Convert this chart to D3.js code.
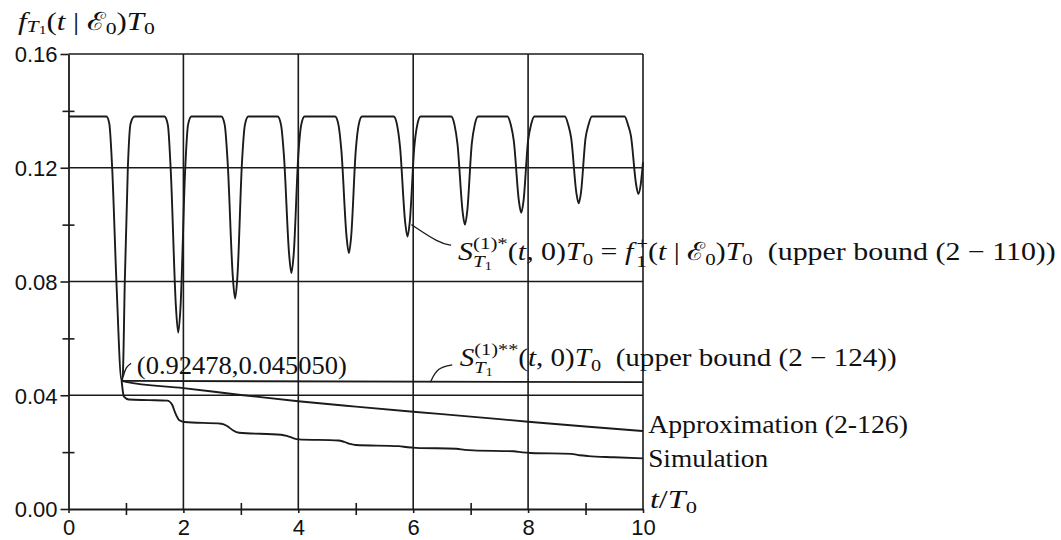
<!DOCTYPE html>
<html><head><meta charset="utf-8">
<script src="https://cdn.jsdelivr.net/npm/d3@7"></script>
<style>
body{margin:0;background:#fff;}
svg{display:block;}
text{white-space:pre;}
</style>
</head><body>
<svg id="chart" width="1061" height="540"></svg>
<script>
// ---- data ----
const xMajorTicks = [0, 2, 4, 6, 8, 10];
const xMinorTicks = [1, 3, 5, 7, 9];
const yMajorTicks = [0, 0.04, 0.08, 0.12, 0.16];
const yMinorTicks = [0.02, 0.06, 0.10, 0.14];
const xTickLabels = ["0", "2", "4", "6", "8", "10"];
const yTickLabels = ["0.00", "0.04", "0.08", "0.12", "0.16"];

// S*_{T1}(t,0)T0 = f1+(t|E0)T0  (upper bound 2-110)
const upperBoundStar = [
  [0,0.138],[0.66,0.138],[0.71,0.1355],[0.76,0.12],[0.834,0.08],[0.925,0.045],
  [0.945,0.047],[0.98,0.08],[1.033,0.12],[1.08,0.1355],[1.15,0.138],
  [1.67,0.138],[1.73,0.135],[1.78,0.119],[1.87,0.0711],[1.91,0.062],[1.95,0.0711],[2.03,0.119],[2.08,0.135],[2.14,0.138],
  [2.66,0.138],[2.72,0.135],[2.77,0.122],[2.86,0.0817],[2.90,0.074],[2.94,0.0817],[3.02,0.122],[3.07,0.135],[3.13,0.138],
  [3.64,0.138],[3.70,0.135],[3.75,0.1243],[3.84,0.0896],[3.88,0.083],[3.92,0.0896],[4.00,0.1243],[4.05,0.135],[4.11,0.138],
  [4.64,0.138],[4.70,0.135],[4.75,0.126],[4.84,0.0958],[4.88,0.090],[4.92,0.0958],[5.00,0.126],[5.05,0.135],[5.11,0.138],
  [5.66,0.138],[5.72,0.135],[5.77,0.1275],[5.86,0.1009],[5.90,0.0958],[5.94,0.1009],[6.02,0.1275],[6.07,0.135],[6.13,0.138],
  [6.66,0.138],[6.72,0.135],[6.77,0.1285],[6.86,0.1046],[6.90,0.100],[6.94,0.1046],[7.02,0.1285],[7.07,0.135],[7.13,0.138],
  [7.64,0.138],[7.70,0.135],[7.75,0.1296],[7.84,0.1083],[7.88,0.1042],[7.92,0.1083],[8.00,0.1296],[8.05,0.135],[8.11,0.138],
  [8.64,0.138],[8.70,0.135],[8.75,0.1304],[8.84,0.1112],[8.88,0.1075],[8.92,0.1112],[9.00,0.1304],[9.05,0.135],[9.11,0.138],
  [9.68,0.138],[9.74,0.135],[9.79,0.1312],[9.88,0.1141],[9.92,0.1108],[9.96,0.1141],[10.0,0.122]
];
// S**_{T1}(t,0)T0  (upper bound 2-124)
const upperBoundStarStar = [[0.92478,0.04505],[10,0.0446]];
// Approximation (2-126)
const approximation = [
  [0.92478,0.04505],[1,0.0447],[2,0.0425],[3,0.0401],[4,0.0379],[5,0.0360],
  [6,0.0342],[7,0.0325],[8,0.0307],[9,0.0290],[10,0.0274]
];
// Simulation
const simulation = [
  [0.92478,0.04505],[0.945,0.0415],[0.965,0.0395],[1.05,0.0385],[1.40,0.0383],[1.72,0.0381],
  [1.80,0.0368],[1.86,0.0337],[1.93,0.0312],[2.02,0.0306],[2.66,0.0300],[2.76,0.0292],
  [2.86,0.0277],[2.97,0.0268],[3.70,0.0261],[3.80,0.0257],[3.90,0.0250],[4.00,0.0245],
  [4.70,0.0241],[4.80,0.0236],[4.90,0.0229],[5.00,0.0225],[5.75,0.0221],[5.90,0.0217],
  [6.05,0.0215],[6.75,0.0212],[6.90,0.0208],[7.05,0.0206],[7.75,0.0203],[7.90,0.0199],
  [8.05,0.0197],[8.75,0.0194],[8.90,0.0189],[9.05,0.0186],[9.50,0.0182],[10.0,0.0178]
];
// annotation leaders (data coordinates)
const leaderPoint = [[0.95,0.0464],[1.0,0.050],[1.09,0.0512]];
const leaderStar = [[5.97,0.100],[6.45,0.0935],[6.66,0.0928]];
const leaderStarStar = [[6.30,0.0446],[6.42,0.0497],[6.68,0.0507]];

// ---- drawing ----
const svg = d3.select("#chart");
const x = d3.scaleLinear().domain([0, 10]).range([68.5, 643]);
const y = d3.scaleLinear().domain([0, 0.16]).range([509, 54]);
const ink = "#1b1b1b";
const serif = "'Liberation Serif','DejaVu Serif',serif";
const sans = "'Liberation Sans','DejaVu Sans',sans-serif";

svg.append("rect").attr("width", 1061).attr("height", 540).attr("fill", "#fff");

// grid
const grid = svg.append("g").attr("stroke", ink).attr("stroke-width", 1.6);
grid.selectAll("line.h").data(yMajorTicks.filter(d => d > 0)).join("line")
  .attr("x1", x(0)).attr("x2", x(10)).attr("y1", d => y(d)).attr("y2", d => y(d));
grid.selectAll("line.v").data(xMajorTicks.filter(d => d > 0)).join("line")
  .attr("class", "v")
  .attr("x1", d => x(d)).attr("x2", d => x(d)).attr("y1", y(0)).attr("y2", y(0.16));

// axes
function styleAxis(g) {
  g.selectAll("path.domain").attr("stroke", ink).attr("stroke-width", 1.8);
  g.selectAll(".tick line").attr("stroke", ink).attr("stroke-width", 1.6);
  g.selectAll(".tick text").attr("fill", "#111").attr("font-family", sans).attr("font-size", 22);
}
svg.append("g").attr("transform", `translate(${x(0)},0)`)
  .call(d3.axisLeft(y).tickValues(yMajorTicks).tickSize(8).tickSizeOuter(0).tickPadding(3)
    .tickFormat((d, i) => yTickLabels[i]))
  .call(styleAxis)
  .call(g => g.selectAll(".tick text").attr("dy", "0.36em"));
svg.append("g").attr("transform", `translate(${x(0) + 6},0)`)
  .call(d3.axisLeft(y).tickValues(yMinorTicks).tickSize(12).tickSizeOuter(0).tickFormat(""))
  .call(styleAxis).call(g => g.select("path.domain").remove());
svg.append("g").attr("transform", `translate(0,${y(0)})`)
  .call(d3.axisBottom(x).tickValues(xMajorTicks).tickSize(4).tickSizeOuter(0).tickPadding(6)
    .tickFormat((d, i) => xTickLabels[i]))
  .call(styleAxis);
svg.append("g").attr("transform", `translate(0,${y(0) - 6})`)
  .call(d3.axisBottom(x).tickValues(xMinorTicks).tickSize(12).tickSizeOuter(0).tickFormat(""))
  .call(styleAxis).call(g => g.select("path.domain").remove());

// series
const line = d3.line().x(d => x(d[0])).y(d => y(d[1])).curve(d3.curveMonotoneX);
const lin = d3.line().x(d => x(d[0])).y(d => y(d[1]));
const series = svg.append("g").attr("fill", "none").attr("stroke", ink).attr("stroke-width", 1.9)
  .attr("stroke-linejoin", "round");
series.append("path").attr("d", line(upperBoundStar));
series.append("path").attr("d", lin(upperBoundStarStar));
series.append("path").attr("d", line(approximation));
series.append("path").attr("d", line(simulation));

// leaders
const leader = d3.line().x(d => x(d[0])).y(d => y(d[1])).curve(d3.curveBasis);
const lead = svg.append("g").attr("fill", "none").attr("stroke", ink).attr("stroke-width", 1.3);
[leaderPoint, leaderStar, leaderStarStar].forEach(p => lead.append("path").attr("d", leader(p)));

// math-like labels
function layoutParts(g, parts, x0, base, size) {
  let cx = x0;
  for (const p of parts) {
    if (p.gap) { cx += size * p.gap; continue; }
    if (p.stack) {
      let maxW = 0;
      for (const row of p.stack) maxW = Math.max(maxW, layoutParts(g, row, cx, base, size) - cx);
      cx += maxW;
    } else {
      const t = g.append("text")
        .attr("x", cx).attr("y", base + size * (p.dy || 0))
        .attr("font-size", size * (p.s || 1))
        .attr("font-style", p.i ? "italic" : "normal")
        .text(p.t);
      cx += t.node().getComputedTextLength();
    }
  }
  return cx;
}
function mathLabel(parts, tx, ty, size, targetW) {
  const x0 = x(tx), base = y(ty);
  const g = svg.append("g").attr("font-family", serif).attr("fill", "#111");
  const end = layoutParts(g, parts, x0, base, size);
  const k = targetW / (end - x0);
  g.attr("transform", `translate(${x0},0) scale(${k},1) translate(${-x0},0)`);
}
const SUP = 0.7, SUBDY = 0.28, SUPDY = -0.42;
const labelStar = [
  {t:"S", i:1},
  {stack:[[{t:"(1)*", s:SUP, dy:SUPDY}], [{t:"T", i:1, s:SUP, dy:SUBDY}, {t:"1", s:0.5, dy:0.42}]]},
  {t:"("}, {t:"t", i:1}, {t:", 0)"}, {t:"T", i:1}, {t:"0", s:SUP, dy:0.22},
  {t:" = "}, {t:"f", i:1}, {gap:0.1},
  {stack:[[{t:"+", s:SUP, dy:SUPDY}], [{t:"1", s:SUP, dy:SUBDY}]]},
  {t:"("}, {t:"t", i:1}, {t:" | "}, {t:"ℰ"}, {t:"0", s:SUP, dy:0.22}, {t:")"},
  {t:"T", i:1}, {t:"0", s:SUP, dy:0.22}, {t:"  (upper bound (2 − 110))"}
];
const labelStarStar = [
  {t:"S", i:1},
  {stack:[[{t:"(1)**", s:SUP, dy:SUPDY}], [{t:"T", i:1, s:SUP, dy:SUBDY}, {t:"1", s:0.5, dy:0.42}]]},
  {t:"("}, {t:"t", i:1}, {t:", 0)"}, {t:"T", i:1}, {t:"0", s:SUP, dy:0.22},
  {t:"  (upper bound (2 − 124))"}
];
const labelY = [
  {t:"f", i:1}, {t:"T", i:1, s:SUP, dy:0.1}, {t:"1", s:0.5, dy:0.16},
  {t:"("}, {t:"t", i:1}, {t:" | "}, {t:"ℰ"}, {t:"0", s:SUP, dy:0.16}, {t:")"},
  {t:"T", i:1}, {t:"0", s:SUP, dy:0.16}
];
const labelX = [{t:"t", i:1}, {t:"/"}, {t:"T", i:1}, {t:"0", s:SUP, dy:0.22}];

mathLabel(labelY, -0.88, 0.1685, 25, 137);
mathLabel(labelStar, 6.78, 0.0876, 25, 598);
mathLabel(labelStarStar, 6.81, 0.0503, 25, 437);
mathLabel([{t:"(0.92478,0.045050)"}], 1.19, 0.0475, 25, 210);
mathLabel([{t:"Approximation (2-126)"}], 10.09, 0.0267, 25, 260);
mathLabel([{t:"Simulation"}], 10.09, 0.01477, 25, 120);
mathLabel(labelX, 10.12, 0.0004, 25, 47);
</script>
</body></html>
